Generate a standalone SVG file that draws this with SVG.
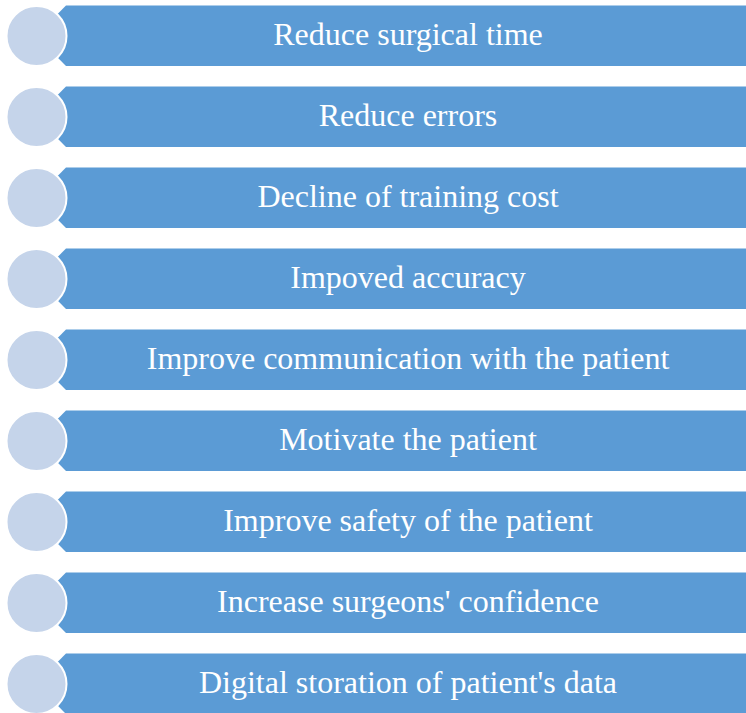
<svg xmlns="http://www.w3.org/2000/svg" width="746" height="713" viewBox="0 0 746 713">
  <defs>
    <style>
      .bar { fill: #5B9BD5; }
      .dot { fill: #C5D4EA; stroke: #FFFFFF; stroke-width: 2; }
      .label { font-family: "Liberation Serif", "Times New Roman", serif; font-size: 32px; fill: #FFFFFF; text-anchor: middle; }
    </style>
    <!-- one list item: arrow-tipped bar with a disc at its tip -->
    <polygon id="barShape" class="bar" points="66,0 746,0 746,60.5 66,60.5 36,30.25"/>
  </defs>
  <rect width="746" height="713" fill="#FFFFFF"/>

  <g id="item1" transform="translate(0,5.5)">
    <use href="#barShape"/>
    <circle class="dot" cx="36.5" cy="30.5" r="30"/>
    <text class="label" x="408" y="39">Reduce surgical time</text>
  </g>
  <g id="item2" transform="translate(0,86.5)">
    <use href="#barShape"/>
    <circle class="dot" cx="36.5" cy="30.5" r="30"/>
    <text class="label" x="408" y="39">Reduce errors</text>
  </g>
  <g id="item3" transform="translate(0,167.5)">
    <use href="#barShape"/>
    <circle class="dot" cx="36.5" cy="30.5" r="30"/>
    <text class="label" x="408" y="39">Decline of training cost</text>
  </g>
  <g id="item4" transform="translate(0,248.5)">
    <use href="#barShape"/>
    <circle class="dot" cx="36.5" cy="30.5" r="30"/>
    <text class="label" x="408" y="39">Impoved accuracy</text>
  </g>
  <g id="item5" transform="translate(0,329.5)">
    <use href="#barShape"/>
    <circle class="dot" cx="36.5" cy="30.5" r="30"/>
    <text class="label" x="408" y="39">Improve communication with the patient</text>
  </g>
  <g id="item6" transform="translate(0,410.5)">
    <use href="#barShape"/>
    <circle class="dot" cx="36.5" cy="30.5" r="30"/>
    <text class="label" x="408" y="39">Motivate the patient</text>
  </g>
  <g id="item7" transform="translate(0,491.5)">
    <use href="#barShape"/>
    <circle class="dot" cx="36.5" cy="30.5" r="30"/>
    <text class="label" x="408" y="39">Improve safety of the patient</text>
  </g>
  <g id="item8" transform="translate(0,572.5)">
    <use href="#barShape"/>
    <circle class="dot" cx="36.5" cy="30.5" r="30"/>
    <text class="label" x="408" y="39">Increase surgeons' confidence</text>
  </g>
  <g id="item9" transform="translate(0,653.5)">
    <use href="#barShape"/>
    <circle class="dot" cx="36.5" cy="30.5" r="30"/>
    <text class="label" x="408" y="39">Digital storation of patient's data</text>
  </g>

  <g id="connectors"/>
</svg>
